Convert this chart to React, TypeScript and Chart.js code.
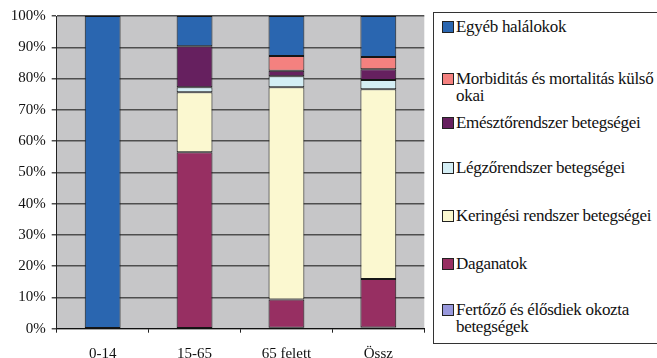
import React, { useEffect, useRef } from "react";
import { Chart, registerables } from "chart.js";

Chart.register(...registerables);

// Age groups on the x axis
const categories = ["0-14", "15-65", "65 felett", "Össz"];

// Share of deaths by cause (%), stacked bottom to top
const fertozo = [0, 0, 0.3, 0.4];
const daganatok = [0, 56.4, 9.0, 15.5];
const keringesi = [0, 19.2, 67.9, 60.7];
const legzo = [0, 1.6, 3.5, 2.9];
const emeszto = [0, 13.1, 1.8, 3.5];
const morbiditas = [0, 0, 4.7, 3.9];
const egyeb = [100, 9.7, 12.8, 13.1];

const yTickStep = 10;

const FONT = '"Liberation Serif", "Times New Roman", serif';

const series = [
  { label: "Fertőző és élősdiek okozta betegségek", data: fertozo, color: "#9999dd" },
  { label: "Daganatok", data: daganatok, color: "#972f62" },
  { label: "Keringési rendszer betegségei", data: keringesi, color: "#fbf8d0" },
  { label: "Légzőrendszer betegségei", data: legzo, color: "#d4eef5" },
  { label: "Emésztőrendszer betegségei", data: emeszto, color: "#66205f" },
  { label: "Morbiditás és mortalitás külső okai", data: morbiditas, color: "#f4817f" },
  { label: "Egyéb halálokok", data: egyeb, color: "#2a66b0" },
];

// Legend rows, top to bottom, with their wrapped lines
const legendRows = [
  { color: "#2a66b0", lines: ["Egyéb halálokok"], top: 8 },
  { color: "#f4817f", lines: ["Morbiditás és mortalitás külső", "okai"], top: 59.5 },
  { color: "#66205f", lines: ["Emésztőrendszer betegségei"], top: 103.5 },
  { color: "#d4eef5", lines: ["Légzőrendszer betegségei"], top: 148.5 },
  { color: "#fbf8d0", lines: ["Keringési rendszer betegségei"], top: 197 },
  { color: "#972f62", lines: ["Daganatok"], top: 244.5 },
  { color: "#9999dd", lines: ["Fertőző és élősdiek okozta", "betegségek"], top: 290.5 },
];

const plotBackground = {
  id: "plotBackground",
  beforeDraw(chart: any) {
    const { ctx, chartArea } = chart;
    ctx.save();
    ctx.fillStyle = "#c6c6c8";
    ctx.fillRect(chartArea.left, chartArea.top, chartArea.right - chartArea.left, chartArea.bottom - chartArea.top);
    ctx.restore();
  },
};

export default function App() {
  const canvasRef = useRef<HTMLCanvasElement | null>(null);

  useEffect(() => {
    const canvas = canvasRef.current;
    if (!canvas) return;
    const chart = new Chart(canvas, {
      type: "bar",
      data: {
        labels: categories,
        datasets: series.map((s) => ({
          label: s.label,
          data: s.data,
          backgroundColor: s.color,
          borderColor: "#161616",
          // empty segments get no outline
          borderWidth: (ctx: any) => (ctx.raw ? 1 : 0),
          borderSkipped: false,
          categoryPercentage: 1,
          barPercentage: 0.39,
        })),
      },
      options: {
        animation: false,
        responsive: false,
        devicePixelRatio: 1,
        layout: { padding: { top: 16, right: 232.7, left: 0, bottom: 0 } },
        plugins: {
          legend: { display: false },
          tooltip: { enabled: false },
        },
        scales: {
          x: {
            stacked: true,
            grid: {
              display: true,
              drawOnChartArea: false,
              offset: true,
              tickLength: 4,
              color: "#222",
            },
            border: { color: "#111", width: 1 },
            ticks: { font: { family: FONT, size: 15 }, color: "#111", padding: 12 },
            afterFit(scale: any) {
              scale.height = 29.3;
            },
          },
          y: {
            stacked: true,
            min: 0,
            max: 100,
            ticks: {
              stepSize: yTickStep,
              font: { family: FONT, size: 15 },
              color: "#111",
              padding: 6,
              callback: (v: any) => v + "%",
            },
            grid: { color: "#4e4e4e", lineWidth: 1.5, tickLength: 5 },
            border: { color: "#222", width: 1 },
            afterFit(scale: any) {
              scale.width = 56.7;
            },
          },
        },
      },
      plugins: [plotBackground],
    });
    return () => chart.destroy();
  }, []);

  return (
    <div
      style={{
        position: "fixed",
        left: 0,
        top: 0,
        width: 657,
        height: 358,
        background: "#fff",
        overflow: "hidden",
      }}
    >
      <canvas ref={canvasRef} width={657} height={358} style={{ position: "absolute", left: 0, top: 0 }} />
      <div
        style={{
          position: "absolute",
          left: 433,
          top: 12,
          width: 240,
          height: 332,
          boxSizing: "border-box",
          border: "1px solid #333",
          background: "#fff",
          fontFamily: FONT,
          fontSize: 17,
          letterSpacing: "-0.3px",
          color: "#111",
        }}
      >
        {legendRows.map((row) => (
          <div key={row.lines[0]} style={{ position: "absolute", left: 0, top: row.top - 3, width: 240 }}>
            <div
              style={{
                position: "absolute",
                left: 8,
                top: 3,
                width: 12,
                height: 12,
                boxSizing: "border-box",
                border: "1px solid #222",
                background: row.color,
              }}
            />
            <div style={{ position: "absolute", left: 22, top: 0, lineHeight: "17.5px", whiteSpace: "nowrap" }}>
              {row.lines.map((line) => (
                <div key={line}>{line}</div>
              ))}
            </div>
          </div>
        ))}
      </div>
    </div>
  );
}
